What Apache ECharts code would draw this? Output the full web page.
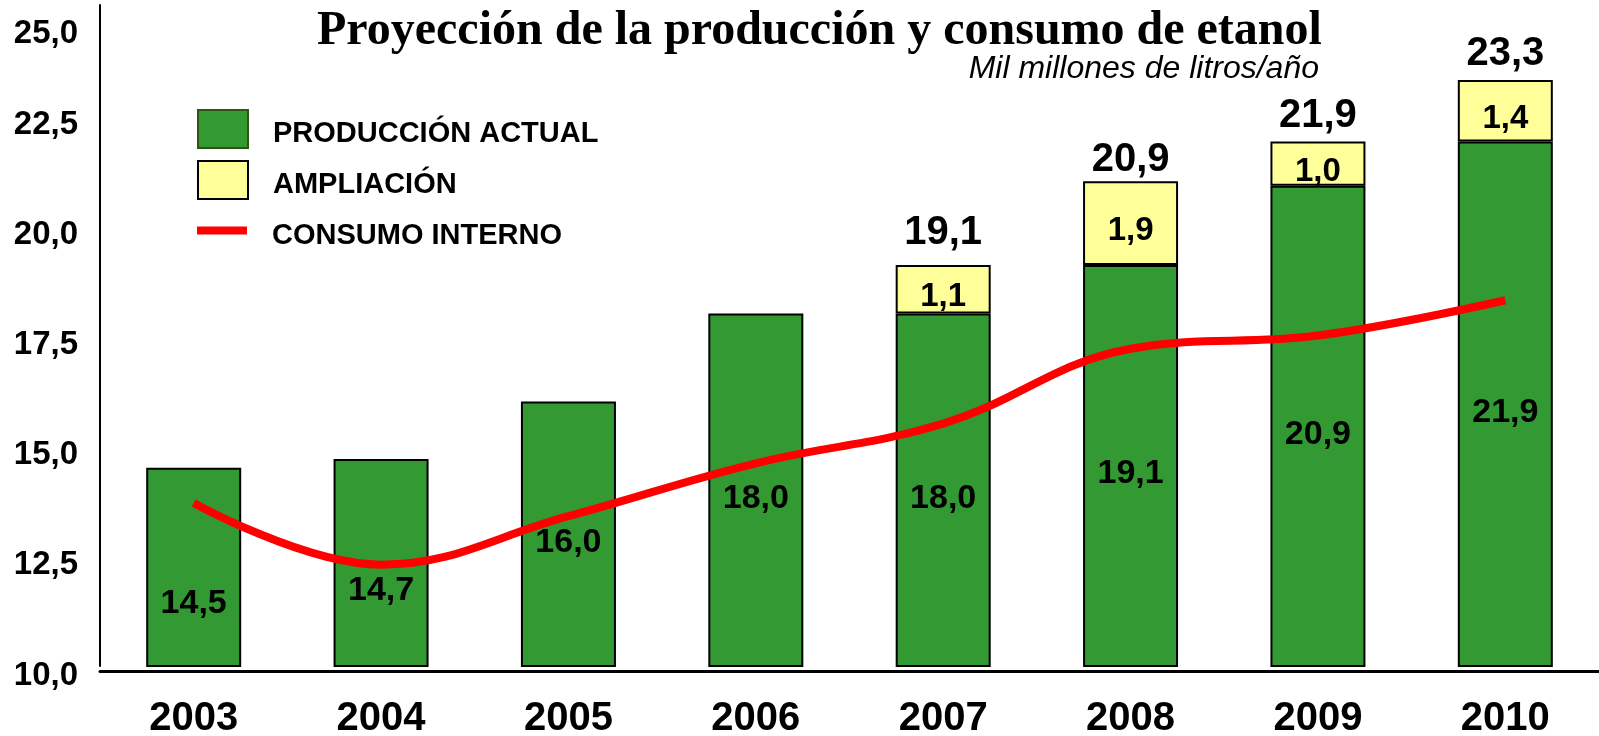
<!DOCTYPE html>
<html style="height: 100%">
<head>
    <meta charset="utf-8">
</head>
<body style="height: 100%; margin: 0">
<div id="container" style="height: 100%"></div>
<script type="text/javascript" src="https://cdn.jsdelivr.net/npm/echarts/dist/echarts.min.js"></script>
<script type="text/javascript">
    var dom = document.getElementById("container");
    var myChart = echarts.init(dom);
    var option = null;

    // datos (mil millones de litros/año)
    var anios = ['2003', '2004', '2005', '2006', '2007', '2008', '2009', '2010'];
    var produccion = [14.5, 14.7, 16.0, 18.0, 18.0, 19.1, 20.9, 21.9];
    var ampliacion = ['-', '-', '-', '-', 1.1, 1.9, 1.0, 1.4];
    var totales = ['-', '-', '-', '-', 19.1, 20.9, 21.9, 23.3];
    var consumo = [13.7, 12.3, 13.4, 14.6, 15.5, 17.2, 17.5, 18.3];

    var fuente = 'Liberation Sans, Arial, sans-serif';

    function coma(v) {
        return Number(v).toFixed(1).replace('.', ',');
    }

    // las dos primeras etiquetas van mas abajo, debajo de la linea roja
    var datosProduccion = produccion.map(function (v, i) {
        if (i === 0) return {value: v, label: {offset: [0, 36]}};
        if (i === 1) return {value: v, label: {offset: [0, 28]}};
        return v;
    });

    // el total de 2007 queda algo mas separado de la barra
    var datosTotales = totales.map(function (v, i) {
        if (i === 4) return {value: v, label: {distance: 12}};
        return v;
    });

    // una leyenda por fila, para colocar cada una
    function leyenda(item, top) {
        return {
            orient: 'vertical',
            left: 197,
            top: top,
            padding: 0,
            itemWidth: 50,
            itemHeight: 38,
            selectedMode: false,
            formatter: function (name) {
                return '{t|' + name + '}';
            },
            textStyle: {
                fontFamily: fuente,
                fontSize: 29,
                fontWeight: 'bold',
                color: '#000',
                padding: [0, 0, 0, 20],
                rich: {
                    t: {
                        fontFamily: fuente,
                        fontSize: 29,
                        fontWeight: 'bold',
                        color: '#000',
                        padding: [10, 0, 0, 0]
                    }
                }
            },
            data: [item]
        };
    }

    option = {
        animation: false,
        title: [
            {
                text: 'Proyección de la producción y consumo de etanol',
                left: 317,
                top: 8,
                padding: 0,
                textStyle: {
                    fontFamily: 'Liberation Serif, Times New Roman, serif',
                    fontSize: 48,
                    fontWeight: 'bold',
                    color: '#000'
                }
            },
            {
                text: 'Mil millones de litros/año',
                right: 280,
                top: 53,
                padding: 0,
                textStyle: {
                    fontFamily: fuente,
                    fontSize: 32,
                    fontStyle: 'italic',
                    fontWeight: 'normal',
                    color: '#000'
                }
            }
        ],
        legend: [
            leyenda({name: 'PRODUCCIÓN ACTUAL', icon: 'rect', itemStyle: {borderColor: '#2f5510'}}, 109),
            leyenda({name: 'AMPLIACIÓN', icon: 'rect'}, 160),
            leyenda({
                name: 'CONSUMO INTERNO',
                icon: 'path://M0,0H45V7H0Z',
                itemStyle: {color: '#ff0000', borderWidth: 0}
            }, 221)
        ],
        grid: {
            left: 100,
            right: 0,
            top: 5,
            bottom: 70,
            outerBoundsMode: 'none'
        },
        xAxis: {
            type: 'category',
            data: anios,
            offset: 5,
            axisLine: {lineStyle: {color: '#000', width: 3}},
            axisTick: {show: false},
            axisLabel: {
                margin: 28,
                fontFamily: fuente,
                fontSize: 40,
                fontWeight: 'bold',
                color: '#000'
            }
        },
        yAxis: {
            type: 'value',
            min: 10,
            max: 25,
            interval: 2.5,
            splitLine: {show: false},
            axisTick: {show: false},
            axisLine: {show: true, lineStyle: {color: '#000', width: 2}},
            axisLabel: {
                margin: 22,
                padding: [19, 0, 0, 0],
                fontFamily: fuente,
                fontSize: 33,
                fontWeight: 'bold',
                color: '#000',
                formatter: function (v) {
                    var t = coma(v);
                    return v === 25 ? '{alto|' + t + '}' : t;
                },
                rich: {
                    alto: {
                        padding: [38, 0, 0, 0],
                        fontFamily: fuente,
                        fontSize: 33,
                        fontWeight: 'bold',
                        color: '#000'
                    }
                }
            }
        },
        series: [
            {
                name: 'PRODUCCIÓN ACTUAL',
                type: 'bar',
                stack: 'prod',
                barWidth: 95,
                data: datosProduccion,
                itemStyle: {color: '#339933', borderColor: '#000', borderWidth: 2},
                label: {
                    show: true,
                    position: 'inside',
                    offset: [0, 8],
                    fontFamily: fuente,
                    fontSize: 34,
                    fontWeight: 'bold',
                    color: '#000',
                    formatter: function (p) { return coma(p.value); }
                }
            },
            {
                name: 'AMPLIACIÓN',
                type: 'bar',
                stack: 'prod',
                barWidth: 95,
                data: ampliacion,
                itemStyle: {color: '#ffff99', borderColor: '#000', borderWidth: 2},
                label: {
                    show: true,
                    position: 'inside',
                    offset: [0, 8],
                    fontFamily: fuente,
                    fontSize: 33,
                    fontWeight: 'bold',
                    color: '#000',
                    formatter: function (p) { return coma(p.value); }
                }
            },
            {
                name: 'CONSUMO INTERNO',
                type: 'line',
                data: consumo,
                smooth: 0.4,
                symbol: 'none',
                z: 5,
                lineStyle: {color: '#ff0000', width: 8},
                itemStyle: {color: '#ff0000'}
            },
            {
                name: 'total',
                type: 'scatter',
                data: datosTotales,
                symbolSize: 1,
                itemStyle: {color: 'rgba(0,0,0,0)', opacity: 1},
                label: {
                    show: true,
                    position: 'top',
                    distance: 5,
                    opacity: 1,
                    fontFamily: fuente,
                    fontSize: 40,
                    fontWeight: 'bold',
                    color: '#000',
                    formatter: function (p) {
                        var v = p.value;
                        return coma(v && v.length ? v[1] : v);
                    }
                }
            }
        ]
    };

    if (option && typeof option === "object") {
        myChart.setOption(option, true);
    }
</script>
</body>
</html>
